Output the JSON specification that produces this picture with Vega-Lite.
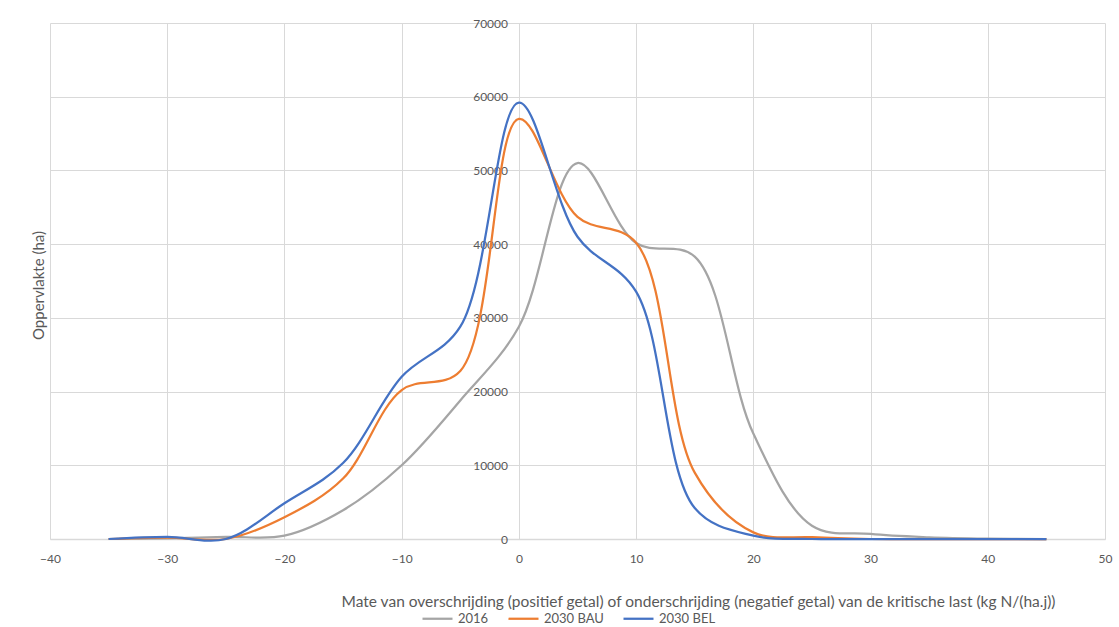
{
  "$schema": "https://vega.github.io/schema/vega-lite/v6.json",
  "width": 1055,
  "height": 516,
  "autosize": {"type": "none"},
  "padding": {"left": 50, "top": 23, "right": 14, "bottom": 88},
  "background": "white",
  "config": {"view": {"stroke": null}, "font": "Lato"},
  "data": {"values": [
    {"x": -35, "series": "2016", "v": 0},
    {"x": -30, "series": "2016", "v": 100},
    {"x": -25, "series": "2016", "v": 300},
    {"x": -20, "series": "2016", "v": 450},
    {"x": -15, "series": "2016", "v": 3900},
    {"x": -10, "series": "2016", "v": 10000},
    {"x": -5, "series": "2016", "v": 18800},
    {"x": 0, "series": "2016", "v": 28800},
    {"x": 5, "series": "2016", "v": 51000},
    {"x": 10, "series": "2016", "v": 40150},
    {"x": 15, "series": "2016", "v": 38300},
    {"x": 20, "series": "2016", "v": 14300},
    {"x": 25, "series": "2016", "v": 1800},
    {"x": 30, "series": "2016", "v": 680},
    {"x": 35, "series": "2016", "v": 230},
    {"x": 40, "series": "2016", "v": 50},
    {"x": 45, "series": "2016", "v": 0},
    {"x": -35, "series": "2030 BAU", "v": 0},
    {"x": -30, "series": "2030 BAU", "v": 200},
    {"x": -25, "series": "2030 BAU", "v": 0},
    {"x": -20, "series": "2030 BAU", "v": 2950},
    {"x": -15, "series": "2030 BAU", "v": 8200},
    {"x": -10, "series": "2030 BAU", "v": 20200},
    {"x": -5, "series": "2030 BAU", "v": 22800},
    {"x": 0, "series": "2030 BAU", "v": 57000},
    {"x": 5, "series": "2030 BAU", "v": 43700},
    {"x": 10, "series": "2030 BAU", "v": 40200},
    {"x": 15, "series": "2030 BAU", "v": 9000},
    {"x": 20, "series": "2030 BAU", "v": 900},
    {"x": 25, "series": "2030 BAU", "v": 250},
    {"x": 30, "series": "2030 BAU", "v": 0},
    {"x": 35, "series": "2030 BAU", "v": 0},
    {"x": 40, "series": "2030 BAU", "v": 0},
    {"x": 45, "series": "2030 BAU", "v": 0},
    {"x": -35, "series": "2030 BEL", "v": 0},
    {"x": -30, "series": "2030 BEL", "v": 300},
    {"x": -25, "series": "2030 BEL", "v": 0},
    {"x": -20, "series": "2030 BEL", "v": 4850},
    {"x": -15, "series": "2030 BEL", "v": 10300},
    {"x": -10, "series": "2030 BEL", "v": 22000},
    {"x": -5, "series": "2030 BEL", "v": 28800},
    {"x": 0, "series": "2030 BEL", "v": 59200},
    {"x": 5, "series": "2030 BEL", "v": 41000},
    {"x": 10, "series": "2030 BEL", "v": 33550},
    {"x": 15, "series": "2030 BEL", "v": 4200},
    {"x": 20, "series": "2030 BEL", "v": 450},
    {"x": 25, "series": "2030 BEL", "v": 0},
    {"x": 30, "series": "2030 BEL", "v": 0},
    {"x": 35, "series": "2030 BEL", "v": 0},
    {"x": 40, "series": "2030 BEL", "v": 0},
    {"x": 45, "series": "2030 BEL", "v": 0}
  ]},
  "mark": {"type": "line", "interpolate": "catmull-rom", "strokeWidth": 2.25},
  "encoding": {
    "x": {
      "field": "x", "type": "quantitative",
      "scale": {"domain": [-40, 50], "nice": false, "zero": false},
      "axis": {
        "values": [-40, -30, -20, -10, 0, 10, 20, 30, 40, 50],
        "grid": true, "gridColor": "#D9D9D9", "gridWidth": 1,
        "domainColor": "#D9D9D9", "domainWidth": 1.3,
        "ticks": false, "labelPadding": 14, "labelFlush": false,
        "labelFontSize": 12, "labelColor": "#595959",
        "title": "Mate van overschrijding (positief getal) of onderschrijding (negatief getal) van de kritische last (kg N/(ha.j))",
        "titleFontSize": 15.5, "titleFontWeight": "normal", "titleColor": "#595959",
        "titleX": 648, "titleY": 62, "titleBaseline": "middle", "titleAlign": "center"
      }
    },
    "y": {
      "field": "v", "type": "quantitative",
      "scale": {"domain": [0, 70000], "nice": false},
      "axis": {
        "values": [0, 10000, 20000, 30000, 40000, 50000, 60000, 70000],
        "format": "d",
        "grid": true, "gridColor": "#D9D9D9", "gridWidth": 1,
        "domain": false, "ticks": false, "offset": -469.5,
        "labelPadding": 12, "labelFlush": false,
        "labelFontSize": 12, "labelColor": "#595959",
        "title": "Oppervlakte (ha)",
        "titleFontSize": 15, "titleFontWeight": "normal", "titleColor": "#595959",
        "titleX": -481, "titleY": 262, "titleBaseline": "middle", "titleAngle": 270, "titleAlign": "center"
      }
    },
    "color": {
      "field": "series", "type": "nominal",
      "scale": {"domain": ["2016", "2030 BAU", "2030 BEL"], "range": ["#A5A5A5", "#ED7D31", "#4472C4"]},
      "legend": {
        "orient": "none", "legendX": 371, "legendY": 579, "direction": "horizontal",
        "title": null, "padding": 0,
        "symbolType": "stroke", "symbolSize": 900, "symbolStrokeWidth": 2.25,
        "labelFontSize": 13, "labelColor": "#595959", "labelOffset": 4, "columnPadding": 15
      }
    }
  }
}
